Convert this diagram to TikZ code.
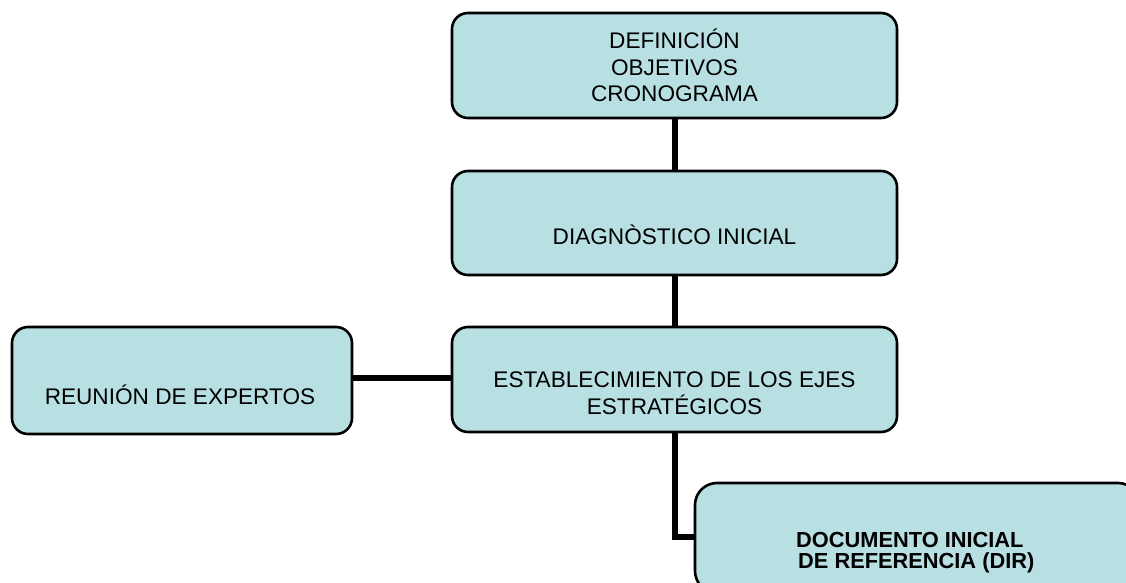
\documentclass[tikz,border=0pt]{standalone}
\usepackage{fontspec}
\setmainfont{Liberation Sans}
\definecolor{boxfill}{RGB}{184,224,227}
\begin{document}
\begin{tikzpicture}[x=1pt,y=-1pt,
  box/.style={draw=black, line width=2.6pt, fill=boxfill, rounded corners=16pt, inner sep=0pt},
  txt/.style={align=center, inner sep=0pt, font=\fontsize{22.6}{26.5}\selectfont},
  link/.style={line width=6pt, draw=black}]
\useasboundingbox (0,0) rectangle (1126,583);
\clip (0,0) rectangle (1126,583);
\fill[white] (0,0) rectangle (1126,583);
% boxes
\node[box, minimum width=445pt, minimum height=105pt] (b1) at (674.5,65.5) {};
\node[box, minimum width=445pt, minimum height=104pt] (b2) at (674.5,223) {};
\node[box, minimum width=445pt, minimum height=105pt] (b3) at (674.5,379.5) {};
\node[box, minimum width=340pt, minimum height=107pt] (b4) at (182,380.5) {};
\node[box, rounded corners=22pt, minimum width=445pt, minimum height=110pt] (b5) at (917.5,538) {};
% connectors
\draw[link] (b1.south -| 675,0) -- (b2.north -| 675,0);
\draw[link] (b2.south -| 675,0) -- (b3.north -| 675,0);
\draw[link] (b4.east |- 0,378) -- (b3.west |- 0,378);
\coordinate (elbow) at (675,537);
\draw[link] (b3.south -| 675,0) -- (elbow) -- (b5.west |- elbow);
% texts
\node[txt] (t1) at (674.5,65.5) {DEFINICIÓN\\OBJETIVOS\\CRONOGRAMA};
\node[txt] (t2) at (674.5,235) {DIAGNÒSTICO INICIAL};
\node[txt] (t3) at (674.5,393) {ESTABLECIMIENTO DE LOS EJES\\ESTRATÉGICOS};
\node[txt] (t4) at (180,395) {REUNIÓN DE EXPERTOS};
\node[txt, align=left, anchor=west, font=\bfseries\fontsize{21.8}{21}\selectfont] (t5) at (796,553) {DOCUMENTO INICIAL\\\hspace{2pt}DE REFERENCIA (DIR)};
\end{tikzpicture}
\end{document}
